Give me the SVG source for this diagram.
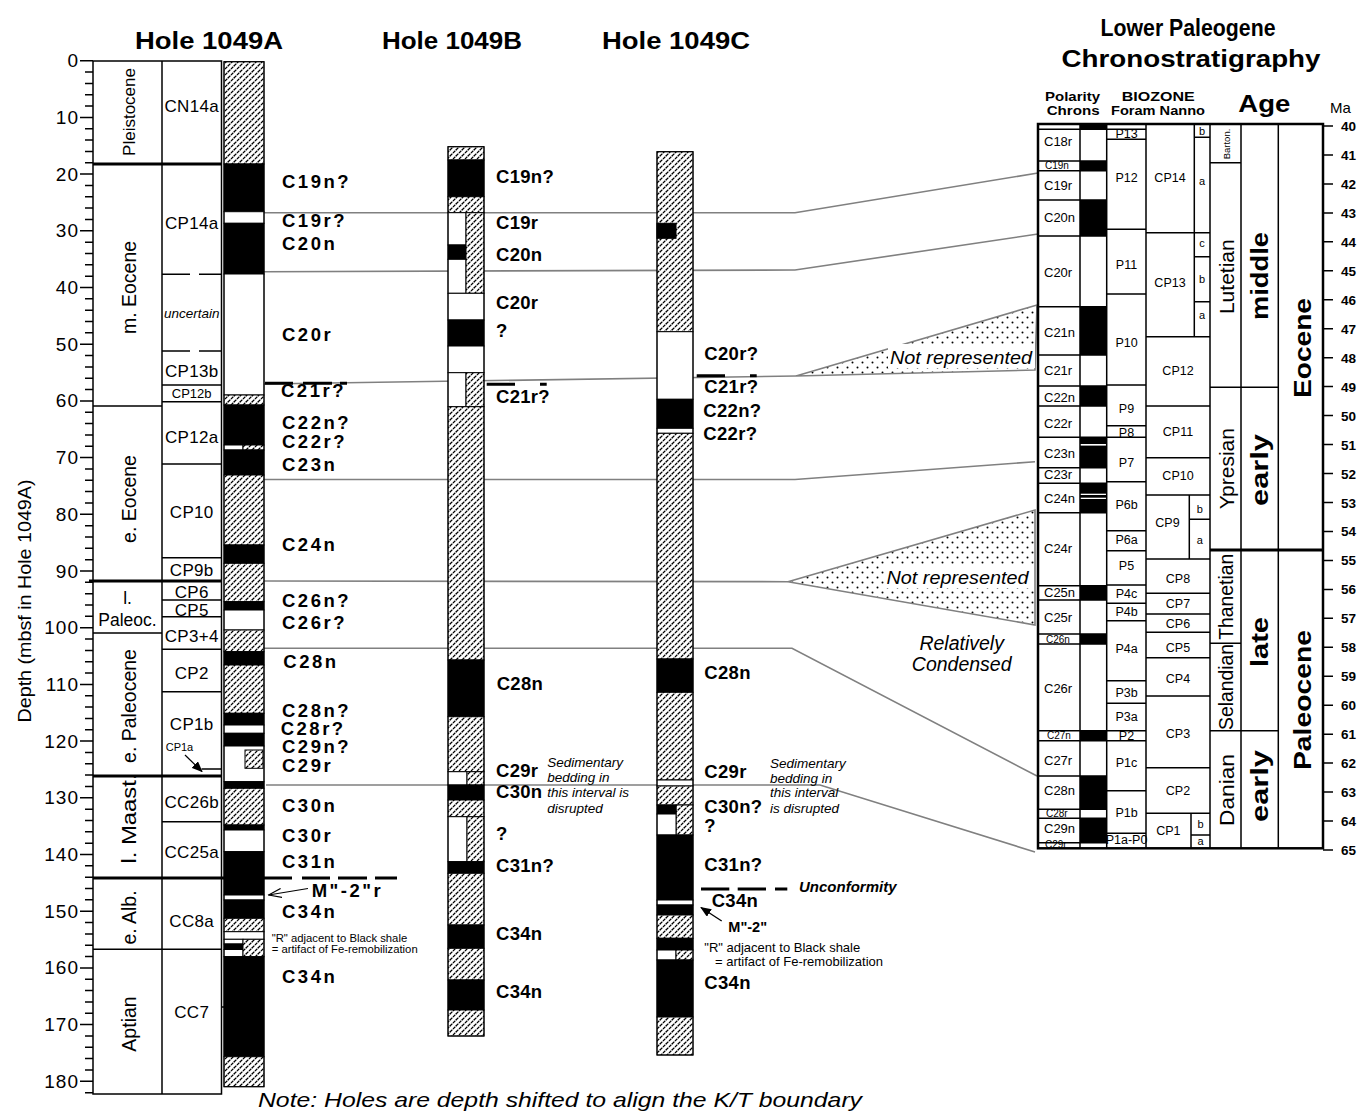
<svg xmlns="http://www.w3.org/2000/svg" width="1359" height="1113" viewBox="0 0 1359 1113">
<style>
text{font-family:"Liberation Sans",Arial,Helvetica,sans-serif;fill:#000}
.ttl{font-size:23px;font-weight:bold;text-anchor:middle}
.ax{font-size:19px;text-anchor:end;letter-spacing:1px}
.ep{font-size:19.5px;text-anchor:middle}
.zn{font-size:17px;text-anchor:middle;letter-spacing:0.3px}
.la{font-size:18.5px;font-weight:bold;letter-spacing:2.5px}
.lb{font-size:18.5px;font-weight:bold;letter-spacing:0.3px}
.it{font-size:13.5px;font-style:italic}
.nt{font-size:11.3px}
.ch{font-size:13px}
.cht{font-size:10px}
.fo{font-size:12.5px;text-anchor:middle}
.sz{font-size:11px;text-anchor:middle}
.st{font-size:21px;text-anchor:middle}
.se{font-size:24px;font-weight:bold;text-anchor:middle}
.ma{font-size:13.5px;font-weight:bold}
.k{stroke:#000;fill:none;stroke-width:1.5}
.th{stroke:#000;fill:none;stroke-width:3}
.cor{stroke:#808080;fill:none;stroke-width:1.6}
.h{fill:url(#hatch)}
.w{fill:#fff}
.bl{fill:#000}
.seg rect{stroke:#000;stroke-width:1}
</style>
<defs>
<pattern id="hatch" patternUnits="userSpaceOnUse" width="6" height="6">
<rect width="6" height="6" fill="#fff"/>
<path d="M0,6 L6,0" stroke="#000" stroke-width="1.3" stroke-dasharray="3.4 0.84"/>
<path d="M-1,1 L1,-1 M5,7 L7,5" stroke="#000" stroke-width="1.3"/>
</pattern>
<pattern id="dots" patternUnits="userSpaceOnUse" width="10" height="10">
<rect width="10" height="10" fill="#fff"/>
<circle cx="2.5" cy="2.5" r="1" fill="#000"/>
<circle cx="7.5" cy="7.5" r="1" fill="#000"/>
</pattern>
<marker id="af" markerWidth="11" markerHeight="9" refX="10" refY="4.5" orient="auto" markerUnits="userSpaceOnUse"><path d="M0,0 L11,4.5 L0,9 z" fill="#000"/></marker>
<marker id="ao" markerWidth="14" markerHeight="10" refX="13" refY="5" orient="auto" markerUnits="userSpaceOnUse"><path d="M0,0.5 L13,5 L0,9.5" fill="none" stroke="#000" stroke-width="1.2"/></marker>
</defs>
<rect width="1359" height="1113" fill="#fff"/>

<!-- Titles -->
<g id="titles">
<text class="ttl" x="209" y="48.5" textLength="148" lengthAdjust="spacingAndGlyphs">Hole 1049A</text>
<text class="ttl" x="452" y="48.5" textLength="140" lengthAdjust="spacingAndGlyphs">Hole 1049B</text>
<text class="ttl" x="676" y="48.5" textLength="148" lengthAdjust="spacingAndGlyphs">Hole 1049C</text>
<text class="ttl" x="1188" y="36" font-size="24px" textLength="175" lengthAdjust="spacingAndGlyphs">Lower Paleogene</text>
<text class="ttl" x="1191" y="67" font-size="24px" textLength="259" lengthAdjust="spacingAndGlyphs">Chronostratigraphy</text>
</g>

<!-- Correlation connectors -->
<g id="connectors">
<polyline class="cor" points="264,212.7 795,212.7 1038,173"/>
<polyline class="cor" points="264,271.7 795,270 1038,234"/>
<polyline class="cor" points="264,384 796,376"/>
<polygon points="796,376 1037,305 1035,370" fill="url(#dots)" stroke="#808080" stroke-width="1.6"/>
<polyline class="cor" points="264,479.5 795,479.5 1035,461.7"/>
<polyline class="cor" points="264,581 788,581.7"/>
<polygon points="788,581.7 1035,510 1035,625" fill="url(#dots)" stroke="#808080" stroke-width="1.6"/>
<polyline class="cor" points="264,648.3 792,648.3 1037,776"/>
<polyline class="cor" points="266,785 820,785 1035,852"/>
<rect x="888" y="344" width="147" height="24" fill="#fff"/>
<text x="890" y="363.5" font-size="19px" font-style="italic" textLength="142" lengthAdjust="spacingAndGlyphs">Not represented</text>
<rect x="884" y="564" width="150" height="24" fill="#fff"/>
<text x="886.5" y="583.5" font-size="19px" font-style="italic" textLength="142" lengthAdjust="spacingAndGlyphs">Not represented</text>
<text x="961.7" y="650" font-size="19.5px" font-style="italic" text-anchor="middle">Relatively</text>
<text x="961.7" y="670.5" font-size="19.5px" font-style="italic" text-anchor="middle">Condensed</text>
</g>

<!-- Depth axis -->
<g id="depth-axis">
<path class="k" stroke-width="1.3" d="M80,60.7H93M85,72.04H93M85,83.38H93M85,94.72H93M85,106.06H93M80,117.4H93M85,128.74H93M85,140.08H93M85,151.42H93M85,162.76H93M80,174.1H93M85,185.44H93M85,196.78H93M85,208.12H93M85,219.46H93M80,230.8H93M85,242.14H93M85,253.48H93M85,264.82H93M85,276.16H93M80,287.5H93M85,298.84H93M85,310.18H93M85,321.52H93M85,332.86H93M80,344.2H93M85,355.54H93M85,366.88H93M85,378.22H93M85,389.56H93M80,400.9H93M85,412.24H93M85,423.58H93M85,434.92H93M85,446.26H93M80,457.6H93M85,468.94H93M85,480.28H93M85,491.62H93M85,502.96H93M80,514.3H93M85,525.64H93M85,536.98H93M85,548.32H93M85,559.66H93M80,571H93M85,582.34H93M85,593.68H93M85,605.02H93M85,616.36H93M80,627.7H93M85,639.04H93M85,650.38H93M85,661.72H93M85,673.06H93M80,684.4H93M85,695.74H93M85,707.08H93M85,718.42H93M85,729.76H93M80,741.1H93M85,752.44H93M85,763.78H93M85,775.12H93M85,786.46H93M80,797.8H93M85,809.14H93M85,820.48H93M85,831.82H93M85,843.16H93M80,854.5H93M85,865.84H93M85,877.18H93M85,888.52H93M85,899.86H93M80,911.2H93M85,922.54H93M85,933.88H93M85,945.22H93M85,956.56H93M80,967.9H93M85,979.24H93M85,990.58H93M85,1001.92H93M85,1013.26H93M80,1024.6H93M85,1035.94H93M85,1047.28H93M85,1058.62H93M85,1069.96H93M80,1081.3H93M85,1092.64H93"/>
<text class="ax" x="79" y="67.2">0</text>
<text class="ax" x="79" y="123.9">10</text>
<text class="ax" x="79" y="180.6">20</text>
<text class="ax" x="79" y="237.3">30</text>
<text class="ax" x="79" y="294">40</text>
<text class="ax" x="79" y="350.7">50</text>
<text class="ax" x="79" y="407.4">60</text>
<text class="ax" x="79" y="464.1">70</text>
<text class="ax" x="79" y="520.8">80</text>
<text class="ax" x="79" y="577.5">90</text>
<text class="ax" x="79" y="634.2">100</text>
<text class="ax" x="79" y="690.9">110</text>
<text class="ax" x="79" y="747.6">120</text>
<text class="ax" x="79" y="804.3">130</text>
<text class="ax" x="79" y="861">140</text>
<text class="ax" x="79" y="917.7">150</text>
<text class="ax" x="79" y="974.4">160</text>
<text class="ax" x="79" y="1031.1">170</text>
<text class="ax" x="79" y="1087.8">180</text>
<text transform="translate(31,601) rotate(-90)" font-size="18.5px" text-anchor="middle" textLength="243" lengthAdjust="spacingAndGlyphs">Depth (mbsf in Hole 1049A)</text>
</g>

<!-- Hole 1049A stratigraphy columns -->
<g id="hole-1049A-strat">
<rect class="k" x="93" y="61" width="128.5" height="1033"/>
<path class="k" d="M162,61V1094"/>
<path class="th" d="M93,164H221.5M89,581H221.5M93,776H221.5M93,878H292"/>
<path class="th" stroke-width="2.5" d="M302,878H330M338,878H367M375,878H397"/>
<path class="k" d="M93,406H162M93,633H162M93,949.3H221.5M162,385H221.5M162,401.7H221.5M162,464H221.5M162,557.7H221.5M162,600H221.5M162,616.7H221.5M162,649.3H221.5M162,691.7H221.5M201.5,769H221.5M162,821.7H221.5M162,274.3H190M199,274.3H221.5M162,351H190M199,351H221.5M221.5,1007H225"/>
<text transform="translate(135,112) rotate(-90)" font-size="17px" text-anchor="middle">Pleistocene</text>
<text class="ep" transform="translate(136,287.5) rotate(-90)">m. Eocene</text>
<text class="ep" transform="translate(136,499) rotate(-90)">e. Eocene</text>
<text font-size="17.5px" text-anchor="middle" x="127.5" y="603.5">l.</text>
<text font-size="17.5px" text-anchor="middle" x="127.5" y="626">Paleoc.</text>
<text class="ep" transform="translate(136,706) rotate(-90)">e. Paleocene</text>
<text class="ep" transform="translate(136,818.5) rotate(-90)" textLength="90" lengthAdjust="spacingAndGlyphs">l. Maast.</text>
<text class="ep" transform="translate(136,917.5) rotate(-90)">e. Alb.</text>
<text class="ep" transform="translate(136,1024) rotate(-90)">Aptian</text>
<text class="zn" x="191.7" y="111.7">CN14a</text>
<text class="zn" x="191.7" y="229.3">CP14a</text>
<text x="191.7" y="317.7" font-size="13.5px" font-style="italic" text-anchor="middle">uncertain</text>
<text class="zn" x="191.7" y="376.7">CP13b</text>
<text x="191.7" y="398.3" font-size="13px" text-anchor="middle">CP12b</text>
<text class="zn" x="191.7" y="442.7">CP12a</text>
<text class="zn" x="191.7" y="518.3">CP10</text>
<text class="zn" x="191.7" y="575.7">CP9b</text>
<text class="zn" x="191.7" y="598.3">CP6</text>
<text class="zn" x="191.7" y="616.2">CP5</text>
<text class="zn" x="191.7" y="641.7">CP3+4</text>
<text class="zn" x="191.7" y="679.3">CP2</text>
<text class="zn" x="191.7" y="730">CP1b</text>
<text x="165.7" y="750.7" font-size="11px">CP1a</text>
<line x1="185" y1="755" x2="202" y2="771.5" stroke="#000" stroke-width="1.2" marker-end="url(#af)"/>
<text class="zn" x="191.7" y="808.3">CC26b</text>
<text class="zn" x="191.7" y="858.3">CC25a</text>
<text class="zn" x="191.7" y="926.7">CC8a</text>
<text class="zn" x="191.7" y="1018.3">CC7</text>
</g>

<!-- Hole 1049A core column -->
<g id="hole-1049A" class="seg">
<rect class="h" x="224" y="61.7" width="40" height="102.3"/>
<rect class="bl" x="224" y="164" width="40" height="47.7"/>
<rect class="w" x="224" y="211.7" width="40" height="11.6"/>
<rect class="bl" x="224" y="223.3" width="40" height="50.7"/>
<rect class="w" x="224" y="274" width="40" height="121"/>
<rect class="h" x="224" y="395" width="40" height="10"/>
<rect class="bl" x="224" y="405" width="40" height="40"/>
<rect class="w" x="224" y="445" width="19" height="5"/>
<rect class="h" x="243" y="445" width="21" height="5"/>
<rect class="bl" x="224" y="450" width="40" height="25"/>
<rect class="h" x="224" y="475" width="40" height="70"/>
<rect class="bl" x="224" y="545" width="40" height="18.3"/>
<rect class="h" x="224" y="563.3" width="40" height="38.4"/>
<rect class="bl" x="224" y="601.7" width="40" height="8.3"/>
<rect class="w" x="224" y="610" width="40" height="20"/>
<rect class="h" x="224" y="630" width="40" height="21.7"/>
<rect class="bl" x="224" y="651.7" width="40" height="13.3"/>
<rect class="h" x="224" y="665" width="40" height="48.3"/>
<rect class="bl" x="224" y="713.3" width="40" height="11.7"/>
<rect class="w" x="224" y="725" width="40" height="8.3"/>
<rect class="bl" x="224" y="733.3" width="40" height="12.7"/>
<rect class="w" x="224" y="746" width="40" height="35.7"/>
<rect class="h" x="245" y="750" width="18" height="18.3"/>
<rect class="bl" x="224" y="781.7" width="40" height="6.6"/>
<rect class="h" x="224" y="788.3" width="40" height="36.7"/>
<rect class="bl" x="224" y="825" width="40" height="5"/>
<rect class="w" x="224" y="830" width="40" height="21.7"/>
<rect class="bl" x="224" y="851.7" width="40" height="43.3"/>
<rect class="w" x="224" y="895" width="40" height="5"/>
<rect class="bl" x="224" y="900" width="40" height="18.3"/>
<rect class="h" x="224" y="918.3" width="40" height="13.4"/>
<rect class="w" x="224" y="931.7" width="40" height="7.6"/>
<rect class="w" x="224" y="939.3" width="19" height="4.7"/>
<rect class="bl" x="224" y="944" width="19" height="5.5"/>
<rect class="w" x="224" y="949.5" width="19" height="7.2"/>
<rect class="h" x="243" y="939.3" width="21" height="17.4"/>
<rect class="bl" x="224" y="956.7" width="40" height="100"/>
<rect class="h" x="224" y="1056.7" width="40" height="30"/>
<rect x="224" y="61.7" width="40" height="1025" fill="none" stroke-width="1.5"/>
</g>

<!-- Hole 1049A labels -->
<g id="hole-1049A-labels">
<text class="la" x="282" y="188.3">C19n?</text>
<text class="la" x="282" y="226.7">C19r?</text>
<text class="la" x="282" y="250">C20n</text>
<text class="la" x="282" y="340.7">C20r</text>
<text class="la" x="281" y="396.7">C21r?</text>
<path class="th" stroke-width="2" d="M265,383.3H293M303,383.3H332M340,383.3H347"/>
<text class="la" x="282" y="429.3">C22n?</text>
<text class="la" x="282" y="447.7">C22r?</text>
<text class="la" x="282" y="471">C23n</text>
<text class="la" x="282" y="551">C24n</text>
<text class="la" x="282" y="607.3">C26n?</text>
<text class="la" x="282" y="629.3">C26r?</text>
<text class="la" x="283.3" y="668.3">C28n</text>
<text class="la" x="282" y="716.5">C28n?</text>
<text class="la" x="280.7" y="735">C28r?</text>
<text class="la" x="282" y="753.3">C29n?</text>
<text class="la" x="282" y="771.7">C29r</text>
<text class="la" x="282" y="811.7">C30n</text>
<text class="la" x="282" y="841.7">C30r</text>
<text class="la" x="282" y="868.3">C31n</text>
<text class="la" x="311.7" y="896.7" letter-spacing="1.5px">M"-2"r</text>
<line x1="308" y1="888.5" x2="268.5" y2="895" stroke="#000" stroke-width="1.2" marker-end="url(#ao)"/>
<text class="la" x="282" y="918.3">C34n</text>
<text class="nt" x="271.7" y="941.7">"R" adjacent to Black shale</text>
<text class="nt" x="271.7" y="953.3">= artifact of Fe-remobilization</text>
<text class="la" x="282" y="983.3">C34n</text>
</g>

<!-- Hole 1049B core column -->
<g id="hole-1049B" class="seg">
<rect class="h" x="448" y="146.7" width="36" height="13.3"/>
<rect class="bl" x="448" y="160" width="36" height="36.7"/>
<rect class="h" x="448" y="196.7" width="36" height="16"/>
<rect class="w" x="448" y="212.7" width="18" height="32.3"/>
<rect class="bl" x="448" y="245" width="18" height="14.3"/>
<rect class="w" x="448" y="259.3" width="18" height="34"/>
<rect class="h" x="466" y="212.7" width="18" height="80.6"/>
<rect class="w" x="448" y="293.3" width="36" height="26.7"/>
<rect class="bl" x="448" y="320" width="36" height="26"/>
<rect class="w" x="448" y="346" width="36" height="26.7"/>
<rect class="w" x="448" y="372.7" width="18" height="34"/>
<rect class="h" x="466" y="372.7" width="18" height="34"/>
<rect class="h" x="448" y="406.7" width="36" height="253.3"/>
<rect class="bl" x="448" y="660" width="36" height="56.7"/>
<rect class="h" x="448" y="716.7" width="36" height="55"/>
<rect class="w" x="448" y="771.7" width="19" height="13.3"/>
<rect class="h" x="467" y="771.7" width="17" height="13.3"/>
<rect class="bl" x="448" y="785" width="36" height="15"/>
<rect class="h" x="448" y="800" width="36" height="16.7"/>
<rect class="w" x="448" y="816.7" width="19" height="45"/>
<rect class="h" x="467" y="816.7" width="17" height="45"/>
<rect class="bl" x="448" y="861.7" width="36" height="11.6"/>
<rect class="h" x="448" y="873.3" width="36" height="51.7"/>
<rect class="bl" x="448" y="925" width="36" height="23.3"/>
<rect class="h" x="448" y="948.3" width="36" height="31.7"/>
<rect class="bl" x="448" y="980" width="36" height="30"/>
<rect class="h" x="448" y="1010" width="36" height="26"/>
<rect x="448" y="146.7" width="36" height="889.3" fill="none" stroke-width="1.5"/>
</g>

<!-- Hole 1049B labels -->
<g id="hole-1049B-labels">
<text class="lb" x="496" y="182.7">C19n?</text>
<text class="lb" x="496" y="229.3">C19r</text>
<text class="lb" x="496" y="260.7">C20n</text>
<text class="lb" x="496" y="309.3">C20r</text>
<text class="lb" x="496" y="336.7">?</text>
<text class="lb" x="496" y="402.7">C21r?</text>
<path class="th" stroke-width="2" d="M486.7,384.3H515M540,384.3H546.7"/>
<text class="lb" x="496.7" y="690">C28n</text>
<text class="lb" x="496" y="776.7">C29r</text>
<text class="lb" x="496" y="798.3">C30n</text>
<text class="it" x="547.3" y="767">Sedimentary</text>
<text class="it" x="547.3" y="782">bedding in</text>
<text class="it" x="547.3" y="797.3">this interval is</text>
<text class="it" x="547.3" y="812.7">disrupted</text>
<text class="lb" x="496" y="840">?</text>
<text class="lb" x="496" y="871.7">C31n?</text>
<text class="lb" x="496" y="940">C34n</text>
<text class="lb" x="496" y="998.3">C34n</text>
</g>

<!-- Hole 1049C core column -->
<g id="hole-1049C" class="seg">
<rect class="h" x="657" y="151.7" width="36" height="180"/>
<rect class="bl" x="657" y="223.3" width="19" height="15"/>
<rect class="w" x="657" y="331.7" width="36" height="67.6"/>
<rect class="bl" x="657" y="399.3" width="36" height="29"/>
<rect class="w" x="657" y="428.3" width="36" height="5"/>
<rect class="h" x="657" y="433.3" width="36" height="225.7"/>
<rect class="bl" x="657" y="659" width="36" height="33.3"/>
<rect class="h" x="657" y="692.3" width="36" height="87.7"/>
<rect class="w" x="657" y="780" width="36" height="6"/>
<rect class="h" x="657" y="786" width="36" height="19"/>
<rect class="h" x="676" y="805" width="17" height="30"/>
<rect class="bl" x="657" y="805" width="19" height="9"/>
<rect class="w" x="657" y="814" width="19" height="21"/>
<rect class="bl" x="657" y="835" width="36" height="65"/>
<rect class="w" x="657" y="900" width="36" height="5"/>
<rect class="bl" x="657" y="905" width="36" height="10"/>
<rect class="h" x="657" y="915" width="36" height="23.3"/>
<rect class="bl" x="657" y="938.3" width="36" height="11.7"/>
<rect class="w" x="657" y="950" width="19" height="10"/>
<rect class="h" x="676" y="950" width="17" height="10"/>
<rect class="bl" x="657" y="960" width="36" height="57"/>
<rect class="h" x="657" y="1017" width="36" height="38"/>
<rect x="657" y="151.7" width="36" height="903.3" fill="none" stroke-width="1.5"/>
</g>

<!-- Hole 1049C labels -->
<g id="hole-1049C-labels">
<text class="lb" x="704.3" y="360">C20r?</text>
<text class="lb" x="704.3" y="393.3">C21r?</text>
<path class="th" stroke-width="2" d="M696.7,375.7H725M750,375.7H756.7"/>
<text class="lb" x="703.3" y="417.3">C22n?</text>
<text class="lb" x="703.3" y="440">C22r?</text>
<text class="lb" x="704.3" y="679.3">C28n</text>
<text class="lb" x="704.3" y="778.3">C29r</text>
<text class="it" x="770" y="767.7">Sedimentary</text>
<text class="it" x="770" y="782.7">bedding in</text>
<text class="it" x="770" y="797.3">this interval</text>
<text class="it" x="770" y="812.7">is disrupted</text>
<text class="lb" x="704.3" y="812.7">C30n?</text>
<text class="lb" x="704.3" y="831.7">?</text>
<text class="lb" x="704.3" y="871">C31n?</text>
<path class="th" stroke-width="2.5" d="M701,889H729.3M737.7,889H766M775,889H787.3"/>
<text x="799" y="891.7" font-size="15px" font-weight="bold" font-style="italic">Unconformity</text>
<text class="lb" x="711.7" y="907.3">C34n</text>
<line x1="721.7" y1="921" x2="701" y2="907.5" stroke="#000" stroke-width="1.3" marker-end="url(#af)"/>
<text x="728.3" y="931.7" font-size="14.5px" font-weight="bold">M"-2"</text>
<text x="704.3" y="951.7" font-size="13px">"R" adjacent to Black shale</text>
<text x="715" y="966" font-size="13px">= artifact of Fe-remobilization</text>
<text class="lb" x="704.3" y="989.3">C34n</text>
</g>

<!-- Chronostratigraphy chart -->
<g id="chrono-headers">
<text x="1045" y="100.7" font-size="13px" font-weight="bold" textLength="55" lengthAdjust="spacingAndGlyphs">Polarity</text>
<text x="1046.7" y="115" font-size="13px" font-weight="bold" textLength="53" lengthAdjust="spacingAndGlyphs">Chrons</text>
<text x="1121.7" y="100.7" font-size="13px" font-weight="bold" textLength="73" lengthAdjust="spacingAndGlyphs">BIOZONE</text>
<text x="1111" y="115" font-size="12px" font-weight="bold" textLength="94" lengthAdjust="spacingAndGlyphs">Foram  Nanno</text>
<text x="1238.3" y="112.3" font-size="23px" font-weight="bold" textLength="52" lengthAdjust="spacingAndGlyphs">Age</text>
<text x="1330" y="113.3" font-size="15px">Ma</text>
</g>

<g id="polarity-chrons">
<rect class="bl" x="1080" y="124" width="26.7" height="5.3"/>
<rect class="bl" x="1080" y="161" width="26.7" height="9.7"/>
<rect class="bl" x="1080" y="200" width="26.7" height="36"/>
<rect class="bl" x="1080" y="306.7" width="26.7" height="48.3"/>
<rect class="bl" x="1080" y="386" width="26.7" height="20"/>
<rect class="bl" x="1080" y="437.3" width="26.7" height="30.4"/>
<rect class="w" x="1080" y="444" width="26.7" height="1.6"/>
<rect class="bl" x="1080" y="483.3" width="26.7" height="29.4"/>
<rect class="w" x="1080" y="493.7" width="26.7" height="1.3"/>
<rect class="w" x="1080" y="497.7" width="26.7" height="1.3"/>
<rect class="bl" x="1080" y="585.7" width="26.7" height="14.3"/>
<rect class="bl" x="1080" y="634" width="26.7" height="10"/>
<rect class="bl" x="1080" y="730.7" width="26.7" height="10"/>
<rect class="bl" x="1080" y="776" width="26.7" height="33.3"/>
<rect class="bl" x="1080" y="818.3" width="26.7" height="24.4"/>
<path class="k" stroke-width="1.3" d="M1038,129.3H1106M1038,161H1106M1038,170.7H1106M1038,200H1106M1038,236H1106M1038,306.7H1106M1038,355H1106M1038,386H1106M1038,406H1106M1038,437.3H1106M1038,467.7H1106M1038,483.3H1106M1038,512.7H1106M1038,585.7H1106M1038,600H1106M1038,634H1106M1038,644H1106M1038,730.7H1106M1038,740.7H1106M1038,776H1106M1038,809.3H1106M1038,818.3H1106M1038,842.7H1106"/>
<text class="ch" x="1044" y="146">C18r</text>
<text class="cht" x="1045" y="169">C19n</text>
<text class="ch" x="1044" y="190">C19r</text>
<text class="ch" x="1044" y="222">C20n</text>
<text class="ch" x="1044" y="276.7">C20r</text>
<text class="ch" x="1044" y="336.7">C21n</text>
<text class="ch" x="1044" y="375">C21r</text>
<text class="ch" x="1044" y="401.7">C22n</text>
<text class="ch" x="1044" y="428.3">C22r</text>
<text class="ch" x="1044" y="458.3">C23n</text>
<text class="ch" x="1044" y="478.5">C23r</text>
<text class="ch" x="1044" y="503.3">C24n</text>
<text class="ch" x="1044" y="552.7">C24r</text>
<text class="ch" x="1044" y="597.3">C25n</text>
<text class="ch" x="1044" y="621.7">C25r</text>
<text class="cht" x="1046" y="642.7">C26n</text>
<text class="ch" x="1044" y="692.7">C26r</text>
<text class="cht" x="1047" y="738.5">C27n</text>
<text class="ch" x="1044" y="765">C27r</text>
<text class="ch" x="1044" y="795">C28n</text>
<text class="cht" x="1046" y="816.7">C28r</text>
<text class="ch" x="1044" y="833.3">C29n</text>
<text class="cht" x="1045" y="847.5">C29r</text>
</g>

<g id="foram-zones">
<path class="k" stroke-width="1.3" d="M1106,129.3H1146M1106,139.3H1146M1106,229.3H1146M1106,294H1146M1106,385H1146M1106,425.7H1146M1106,437.3H1146M1106,481.7H1146M1106,530.7H1146M1106,550.7H1146M1106,585H1146M1106,603.3H1146M1106,620.7H1146M1106,680.7H1146M1106,703.3H1146M1106,730.7H1146M1106,740.7H1146M1106,790.7H1146M1106,833.3H1146"/>
<text class="fo" x="1126.5" y="137.5" font-size="11px">P13</text>
<text class="fo" x="1126.5" y="182.3">P12</text>
<text class="fo" x="1126.5" y="269.3">P11</text>
<text class="fo" x="1126.5" y="346.7">P10</text>
<text class="fo" x="1126.5" y="413.3">P9</text>
<text class="fo" x="1126.5" y="436.7" font-size="11px">P8</text>
<text class="fo" x="1126.5" y="466.7">P7</text>
<text class="fo" x="1126.5" y="509.3">P6b</text>
<text class="fo" x="1126.5" y="544">P6a</text>
<text class="fo" x="1126.5" y="570">P5</text>
<text class="fo" x="1126.5" y="598.3">P4c</text>
<text class="fo" x="1126.5" y="616">P4b</text>
<text class="fo" x="1126.5" y="653.3">P4a</text>
<text class="fo" x="1126.5" y="696.7">P3b</text>
<text class="fo" x="1126.5" y="720.7">P3a</text>
<text class="fo" x="1126.5" y="739.5" font-size="11px">P2</text>
<text class="fo" x="1126.5" y="766.7">P1c</text>
<text class="fo" x="1126.5" y="816.7">P1b</text>
<text class="fo" x="1126.5" y="844" font-size="10px">P1a-P0</text>
</g>

<g id="nanno-zones">
<path class="k" stroke-width="1.3" d="M1146,232.7H1210M1146,336.7H1210M1146,406H1210M1146,457.7H1210M1146,495H1210M1146,559H1210M1146,593.3H1210M1146,614H1210M1146,632.3H1210M1146,657.7H1210M1146,696H1210M1146,767.7H1210M1146,813.3H1210M1194.3,124V336.7M1194.3,137.3H1210M1194.3,256.7H1210M1194.3,301.7H1210M1189.3,495V559M1189.3,519.3H1210M1191,813.3V848M1191,835H1210"/>
<text class="fo" x="1170" y="181.7">CP14</text>
<text class="fo" x="1170" y="286.7">CP13</text>
<text class="fo" x="1178" y="375">CP12</text>
<text class="fo" x="1178" y="436">CP11</text>
<text class="fo" x="1178" y="480">CP10</text>
<text class="fo" x="1167.5" y="526.7">CP9</text>
<text class="fo" x="1178" y="583.3">CP8</text>
<text class="fo" x="1178" y="608.3">CP7</text>
<text class="fo" x="1178" y="628.3">CP6</text>
<text class="fo" x="1178" y="651.7">CP5</text>
<text class="fo" x="1178" y="682.7">CP4</text>
<text class="fo" x="1178" y="738.3">CP3</text>
<text class="fo" x="1178" y="795">CP2</text>
<text class="fo" x="1168.3" y="835">CP1</text>
<text class="sz" x="1202" y="134.5">b</text>
<text class="sz" x="1202" y="185">a</text>
<text class="sz" x="1202" y="246.7">c</text>
<text class="sz" x="1202" y="283.3">b</text>
<text class="sz" x="1202" y="319.3">a</text>
<text class="sz" x="1199.7" y="513.3">b</text>
<text class="sz" x="1199.7" y="544">a</text>
<text class="sz" x="1200.5" y="828.3">b</text>
<text class="sz" x="1200.5" y="845">a</text>
</g>

<g id="age-columns">
<path class="k" d="M1210,162.7H1241M1210,387.3H1278.3M1210,643.3H1241M1210,730.7H1278.3"/>
<path class="th" stroke-width="2.5" d="M1210,550H1323"/>
<text transform="translate(1229.5,144) rotate(-90)" font-size="9.5px" text-anchor="middle">Barton.</text>
<text class="st" transform="translate(1233.5,276.7) rotate(-90)">Lutetian</text>
<text class="st" transform="translate(1233.5,468.7) rotate(-90)">Ypresian</text>
<text class="st" transform="translate(1233,596.7) rotate(-90)" font-size="19.5px" textLength="86" lengthAdjust="spacingAndGlyphs">Thanetian</text>
<text class="st" transform="translate(1233,687) rotate(-90)" font-size="19.5px" textLength="86" lengthAdjust="spacingAndGlyphs">Selandian</text>
<text class="st" transform="translate(1233.5,790) rotate(-90)" textLength="72" lengthAdjust="spacingAndGlyphs">Danian</text>
<text class="se" transform="translate(1268,276) rotate(-90)" textLength="88" lengthAdjust="spacingAndGlyphs">middle</text>
<text class="se" transform="translate(1268,470) rotate(-90)" textLength="72" lengthAdjust="spacingAndGlyphs">early</text>
<text class="se" transform="translate(1268,642) rotate(-90)" textLength="50" lengthAdjust="spacingAndGlyphs">late</text>
<text class="se" transform="translate(1268,786) rotate(-90)" textLength="72" lengthAdjust="spacingAndGlyphs">early</text>
<text class="se" transform="translate(1311,348) rotate(-90)" font-size="26px" textLength="100" lengthAdjust="spacingAndGlyphs">Eocene</text>
<text class="se" transform="translate(1311,700) rotate(-90)" font-size="26px" textLength="140" lengthAdjust="spacingAndGlyphs">Paleocene</text>
</g>

<g id="chrono-frame">
<path class="k" d="M1080,124V848.3M1146,124V848.3M1241,124V848.3M1278.3,124V848.3"/>
<path class="k" stroke-width="2.5" d="M1106.7,124V848.3M1210,124V848.3"/>
<rect x="1038" y="124" width="285" height="724.3" fill="none" stroke="#000" stroke-width="2.5"/>
</g>

<g id="ma-scale">
<path class="k" stroke-width="1.3" d="M1323,126H1333M1323,155H1333M1323,183.9H1333M1323,212.9H1333M1323,241.8H1333M1323,270.8H1333M1323,299.8H1333M1323,328.7H1333M1323,357.7H1333M1323,386.6H1333M1323,415.6H1333M1323,444.6H1333M1323,473.5H1333M1323,502.5H1333M1323,531.4H1333M1323,560.4H1333M1323,589.4H1333M1323,618.3H1333M1323,647.3H1333M1323,676.2H1333M1323,705.2H1333M1323,734.2H1333M1323,763.1H1333M1323,792.1H1333M1323,821H1333M1323,850H1333"/>
<text class="ma" x="1341" y="131">40</text>
<text class="ma" x="1341" y="160">41</text>
<text class="ma" x="1341" y="188.9">42</text>
<text class="ma" x="1341" y="217.9">43</text>
<text class="ma" x="1341" y="246.8">44</text>
<text class="ma" x="1341" y="275.8">45</text>
<text class="ma" x="1341" y="304.8">46</text>
<text class="ma" x="1341" y="333.7">47</text>
<text class="ma" x="1341" y="362.7">48</text>
<text class="ma" x="1341" y="391.6">49</text>
<text class="ma" x="1341" y="420.6">50</text>
<text class="ma" x="1341" y="449.6">51</text>
<text class="ma" x="1341" y="478.5">52</text>
<text class="ma" x="1341" y="507.5">53</text>
<text class="ma" x="1341" y="536.4">54</text>
<text class="ma" x="1341" y="565.4">55</text>
<text class="ma" x="1341" y="594.4">56</text>
<text class="ma" x="1341" y="623.3">57</text>
<text class="ma" x="1341" y="652.3">58</text>
<text class="ma" x="1341" y="681.2">59</text>
<text class="ma" x="1341" y="710.2">60</text>
<text class="ma" x="1341" y="739.2">61</text>
<text class="ma" x="1341" y="768.1">62</text>
<text class="ma" x="1341" y="797.1">63</text>
<text class="ma" x="1341" y="826">64</text>
<text class="ma" x="1341" y="855">65</text>
</g>

<text x="258" y="1106.5" font-size="21px" font-style="italic" textLength="604" lengthAdjust="spacingAndGlyphs">Note: Holes are depth shifted to align the K/T boundary</text>
</svg>
